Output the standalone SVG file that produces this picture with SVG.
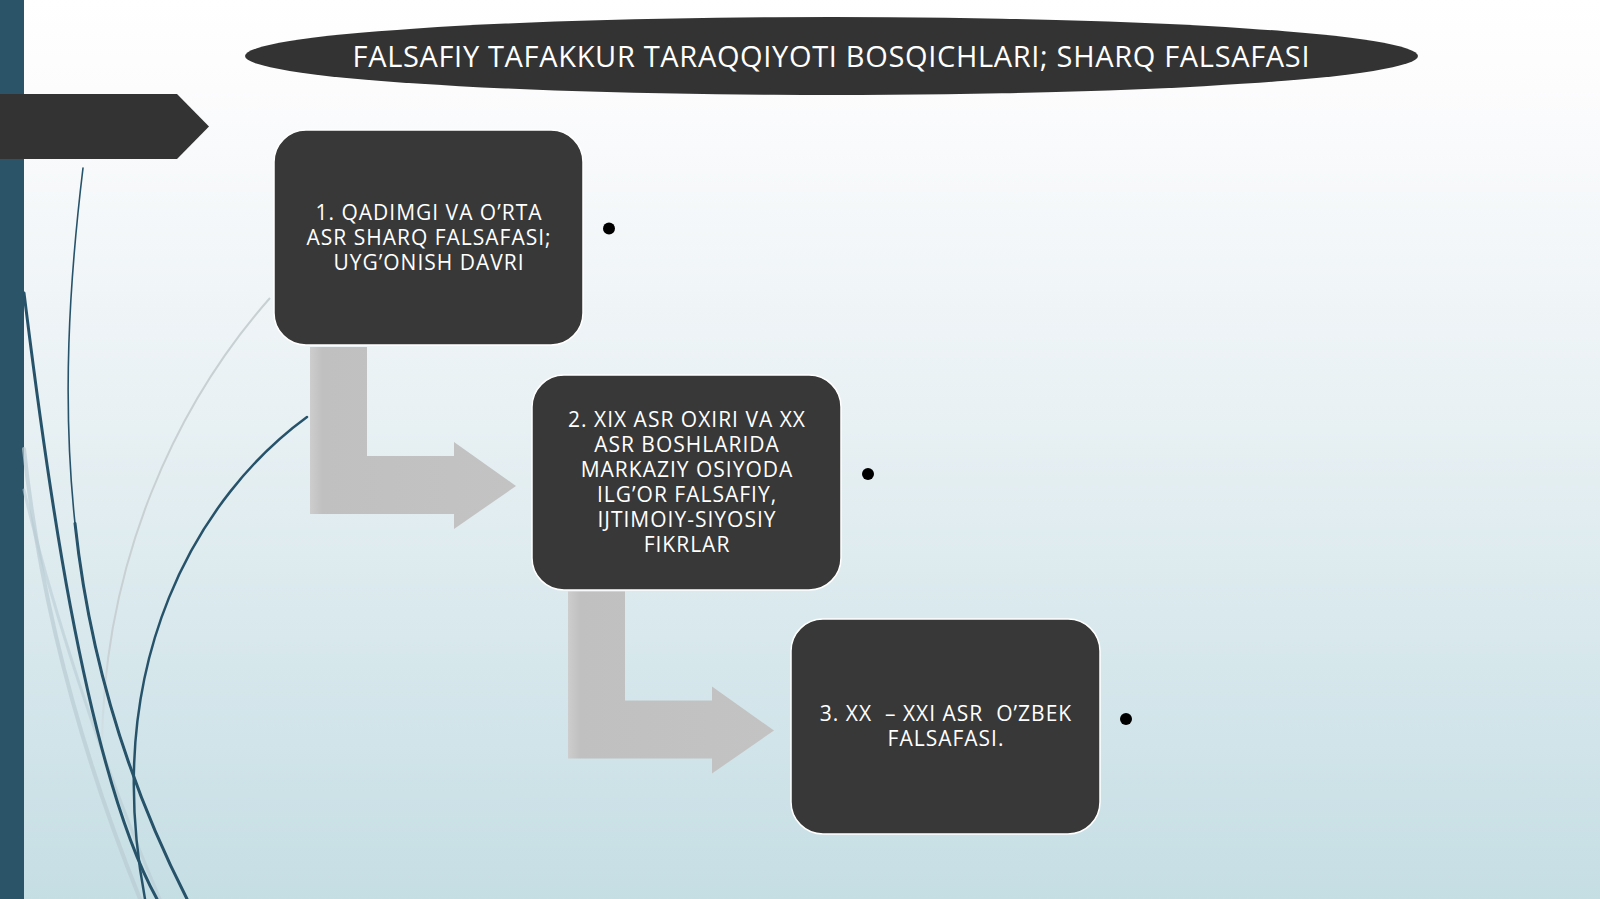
<svg xmlns="http://www.w3.org/2000/svg" width="1600" height="899" viewBox="0 0 1600 899">
<style>
.box{fill:#383838;stroke:#ffffff;stroke-width:1.5}
.bt{font-family:"Open Sans","Noto Sans","DejaVu Sans",sans-serif;font-size:21px;letter-spacing:1px;fill:#ffffff;text-anchor:middle;white-space:pre}
.tt{font-family:"Open Sans","Noto Sans","DejaVu Sans",sans-serif;font-size:29px;fill:#ffffff;text-anchor:middle}
.dot{fill:#000000}
.arr{fill:url(#ga)}
.wd{fill:none;stroke:#27536a;stroke-linecap:round}
.wl{fill:none;stroke:#b9ccd3;stroke-linecap:round}
</style>
<defs>
<linearGradient id="bg" x1="0" y1="0" x2="0" y2="1">
<stop offset="0" stop-color="#ffffff"/>
<stop offset="0.1" stop-color="#fcfcfd"/>
<stop offset="0.45" stop-color="#e9f1f4"/>
<stop offset="1" stop-color="#c5dee4"/>
</linearGradient>
<linearGradient id="ga" x1="0" y1="0" x2="1" y2="0">
<stop offset="0" stop-color="#cdcdcd"/>
<stop offset="0.06" stop-color="#c0c0c0"/>
<stop offset="1" stop-color="#c3c3c3"/>
</linearGradient>
<linearGradient id="fade" x1="0" y1="0" x2="0" y2="1">
<stop offset="0" stop-color="#c8d0d3"/>
<stop offset="0.75" stop-color="#c8d0d3"/>
<stop offset="1" stop-color="#c8d0d3" stop-opacity="0"/>
</linearGradient>
</defs>
<rect x="0" y="0" width="1600" height="899" fill="url(#bg)"/>
<rect x="0" y="0" width="24" height="899" fill="#2b5468"/>
<g id="wisps">
<path class="wl" stroke-width="4" opacity="0.7" d="M24 449 C40 600 80 750 140 899"/>
<path class="wl" stroke-width="3" opacity="0.6" d="M24 490 C50 600 100 760 160 899"/>
<path fill="none" stroke="url(#fade)" stroke-width="2" d="M270 298 C180 400 100 560 102 760"/>
<path class="wd" stroke-width="3" d="M24 293 C40 420 80 760 157 899"/>
<path class="wd" stroke-width="1.6" d="M83 168 C55 400 55 640 187 899"/>
<path class="wd" stroke-width="3" d="M75 523.4 C88 644.75 121 769.5 187 899"/>
<path class="wd" stroke-width="2.5" d="M307 417 C200 495 100 660 145 899"/>
</g>
<path id="tab" d="M0 94 H177 L209 126.5 L177 159 H0 Z" fill="#333333"/>
<g id="title">
<ellipse cx="831.5" cy="56" rx="586.5" ry="39" fill="#333333"/>
<text class="tt" x="831" y="67" textLength="957" lengthAdjust="spacing">FALSAFIY TAFAKKUR TARAQQIYOTI BOSQICHLARI; SHARQ FALSAFASI</text>
</g>
<g id="connectors">
<path class="arr" d="M310 347 H367 V456 H454 V442 L516 486 L454 529 V514 H310 Z"/>
<path class="arr" d="M568 591.5 H625 V700.5 H712 V686.5 L774 730.5 L712 773.5 V758.5 H568 Z"/>
</g>
<g id="node1">
<rect class="box" x="274" y="130" width="309" height="215" rx="32"/>
<text class="bt" x="429" y="220">1. QADIMGI VA O’RTA</text>
<text class="bt" x="429" y="245">ASR SHARQ FALSAFASI;</text>
<text class="bt" x="429" y="270">UYG’ONISH DAVRI</text>
<circle class="dot" cx="609" cy="228.5" r="6"/>
</g>
<g id="node2">
<rect class="box" x="532" y="375" width="309" height="215" rx="32"/>
<text class="bt" x="687" y="427">2. XIX ASR OXIRI VA XX</text>
<text class="bt" x="687" y="452">ASR BOSHLARIDA</text>
<text class="bt" x="687" y="477">MARKAZIY OSIYODA</text>
<text class="bt" x="687" y="502">ILG’OR FALSAFIY,</text>
<text class="bt" x="687" y="527">IJTIMOIY-SIYOSIY</text>
<text class="bt" x="687" y="552">FIKRLAR</text>
<circle class="dot" cx="868" cy="474" r="6"/>
</g>
<g id="node3">
<rect class="box" x="791" y="619" width="309" height="215" rx="32"/>
<text class="bt" x="946" y="721">3. XX  – XXI ASR  O’ZBEK</text>
<text class="bt" x="946" y="746">FALSAFASI.</text>
<circle class="dot" cx="1126" cy="719" r="6"/>
</g>
</svg>
